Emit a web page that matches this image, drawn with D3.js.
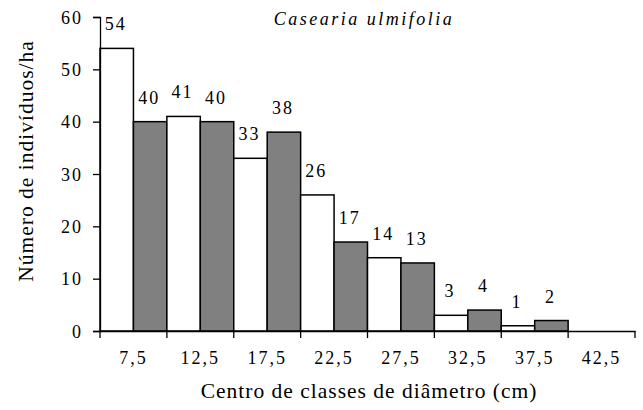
<!DOCTYPE html>
<html>
<head>
<meta charset="utf-8">
<script src="https://cdn.jsdelivr.net/npm/d3@7"></script>
<style>
  body { margin: 0; background: #fff; }
</style>
</head>
<body>
<div id="chart"></div>
<script>
var categories = ["7,5", "12,5", "17,5", "22,5", "27,5", "32,5", "37,5", "42,5"];
var whiteValues = [54, 41, 33, 26, 14, 3, 1, null];
var greyValues = [40, 40, 38, 17, 13, 4, 2, null];
var yTicks = [0, 10, 20, 30, 40, 50, 60];

var w = 643, h = 410;
var plotLeft = 100, plotRight = 635, plotTop = 17, plotBottom = 331;
var serif = "'Liberation Serif', 'Times New Roman', Times, serif";

var svg = d3.select("#chart").append("svg")
  .attr("width", w)
  .attr("height", h)
  .style("font-family", serif);

var x = d3.scaleBand()
  .domain(categories)
  .range([plotLeft, plotRight])
  .paddingInner(0)
  .paddingOuter(0);

var y = d3.scaleLinear()
  .domain([0, 60])
  .range([plotBottom, plotTop]);

var bars = [];
categories.forEach(function(c, i) {
  if (whiteValues[i] != null) bars.push({cat: c, value: whiteValues[i], pos: 0, fill: "#fff"});
  if (greyValues[i] != null) bars.push({cat: c, value: greyValues[i], pos: 1, fill: "#808080"});
});

var half = x.bandwidth() / 2;

svg.append("g").selectAll("rect")
  .data(bars)
  .enter()
  .append("rect")
  .attr("x", function(d) { return x(d.cat) + d.pos * half; })
  .attr("y", function(d) { return y(d.value); })
  .attr("width", half)
  .attr("height", function(d) { return plotBottom - y(d.value); })
  .attr("fill", function(d) { return d.fill; })
  .attr("stroke", "#000")
  .attr("stroke-width", 1.5);

// value labels above the bars
svg.append("g").selectAll("text")
  .data(bars)
  .enter()
  .append("text")
  .attr("x", function(d) { return x(d.cat) + d.pos * half + half / 2 - 1; })
  .attr("y", function(d) { return y(d.value) - 18; })
  .attr("text-anchor", "middle")
  .style("font-family", serif)
  .style("font-size", "18px")
  .style("letter-spacing", "2px")
  .text(function(d) { return d.value; });

// y axis
var yAxis = svg.append("g")
  .attr("transform", "translate(" + plotLeft + ",0)")
  .call(d3.axisLeft(y).tickValues(yTicks).tickSize(7).tickPadding(10));
yAxis.selectAll("text")
  .style("font-family", serif)
  .style("font-size", "18px")
  .style("letter-spacing", "2px")
  .attr("dy", "0.35em");

// x axis
var xAxis = svg.append("g")
  .attr("transform", "translate(0," + plotBottom + ")")
  .call(d3.axisBottom(x).tickSize(0).tickPadding(20));
xAxis.selectAll("text")
  .style("font-family", serif)
  .style("font-size", "18px")
  .style("letter-spacing", "2px")
  .attr("dy", "0.71em");

// boundary ticks between classes
var bounds = categories.map(function(c) { return x(c); }).concat([plotRight]);
xAxis.selectAll(".bound")
  .data(bounds)
  .enter()
  .append("line")
  .attr("class", "bound")
  .attr("x1", function(d) { return d; })
  .attr("x2", function(d) { return d; })
  .attr("y1", 0)
  .attr("y2", 7)
  .attr("stroke", "#000")
  .attr("stroke-width", 1.3);

svg.selectAll(".domain").attr("stroke", "#000").attr("stroke-width", 1.3);
svg.selectAll(".tick line").attr("stroke", "#000").attr("stroke-width", 1.3);

svg.append("text")
  .attr("x", 364)
  .attr("y", 25)
  .attr("text-anchor", "middle")
  .style("font-family", serif)
  .style("font-size", "18px")
  .style("letter-spacing", "2.5px")
  .style("font-style", "italic")
  .text("Casearia ulmifolia");

svg.append("text")
  .attr("x", 369)
  .attr("y", 398)
  .attr("text-anchor", "middle")
  .style("font-family", serif)
  .style("font-size", "21.5px")
  .style("letter-spacing", "1px")
  .text("Centro de classes de diâmetro (cm)");

svg.append("text")
  .attr("transform", "translate(33,161) rotate(-90)")
  .attr("text-anchor", "middle")
  .style("font-family", serif)
  .style("font-size", "21.5px")
  .style("letter-spacing", "1px")
  .text("Número de indivíduos/ha");
</script>
</body>
</html>
